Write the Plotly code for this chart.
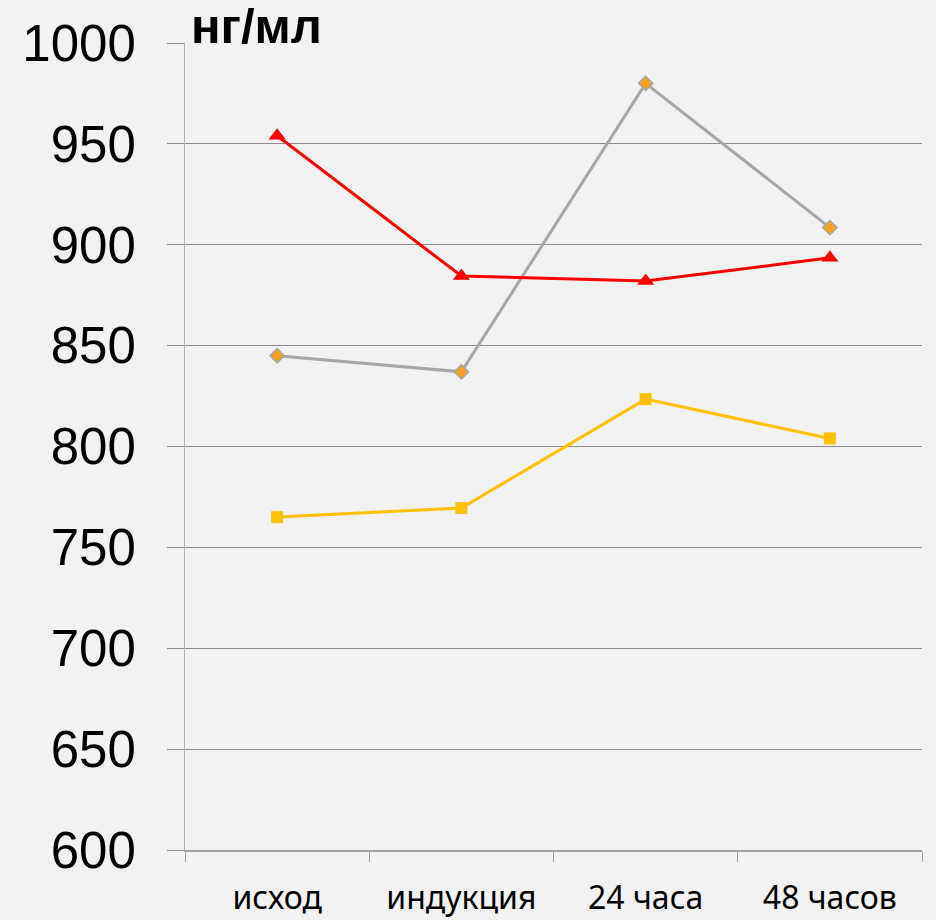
import plotly.graph_objects as go

categories = ["исход", "индукция", "24 часа", "48 часов"]
red_vals = [954, 884.5, 882, 893.5]
gray_vals = [845, 837, 980, 908.5]
yellow_vals = [765, 769.5, 823.5, 804]
y_ticks = [600, 650, 700, 750, 800, 850, 900, 950, 1000]

fig = go.Figure()
fig.add_trace(go.Scatter(
    x=categories, y=gray_vals, mode="lines+markers",
    line=dict(color="#a6a6a6", width=3),
    marker=dict(symbol="diamond", size=11, color="#f5a11d", line=dict(color="#a6a6a6", width=1.5)),
))
fig.add_trace(go.Scatter(
    x=categories, y=red_vals, mode="lines+markers",
    line=dict(color="#ff0000", width=3),
    marker=dict(symbol="triangle-up", size=15, color="#ff0000"),
))
fig.add_trace(go.Scatter(
    x=categories, y=yellow_vals, mode="lines+markers",
    line=dict(color="#ffc000", width=3),
    marker=dict(symbol="square", size=12, color="#ffc000"),
))

fig.update_layout(
    width=928, height=912,
    paper_bgcolor="#f2f2f2", plot_bgcolor="#f2f2f2",
    margin=dict(l=177, r=14, t=35, b=70, autoexpand=False),
    showlegend=False,
    xaxis=dict(
        type="category", range=[-0.5, 3.5], automargin=False,
        showgrid=False, showline=True, linecolor="#a0a0a0", linewidth=2,
        ticks="outside", ticklen=10, tickcolor="#a0a0a0", tickwidth=1,
        tickson="boundaries",
        tickfont=dict(family="Noto Sans", size=32, color="#000000"),
        ticklabelstandoff=19,
    ),
    yaxis=dict(
        range=[600, 1000], tickvals=y_ticks, automargin=False,
        showgrid=True, gridcolor="#8c8c8c", gridwidth=1,
        showline=True, linecolor="#b0b0b0", linewidth=1,
        ticks="outside", ticklen=17, tickcolor="#8c8c8c",
        tickfont=dict(family="Liberation Sans, Arial", size=51, color="#000000"),
        ticklabelstandoff=21,
        zeroline=False,
    ),
    annotations=[dict(
        text="<b>нг/мл</b>", xref="paper", yref="paper",
        x=0.0, y=1.0, xanchor="left", yanchor="bottom", xshift=4, yshift=-12,
        showarrow=False,
        font=dict(family="Liberation Sans, Arial", size=49, color="#000000"),
    )],
)

fig.write_html("out.html", post_script="document.body.style.backgroundColor='#f2f2f2';")
